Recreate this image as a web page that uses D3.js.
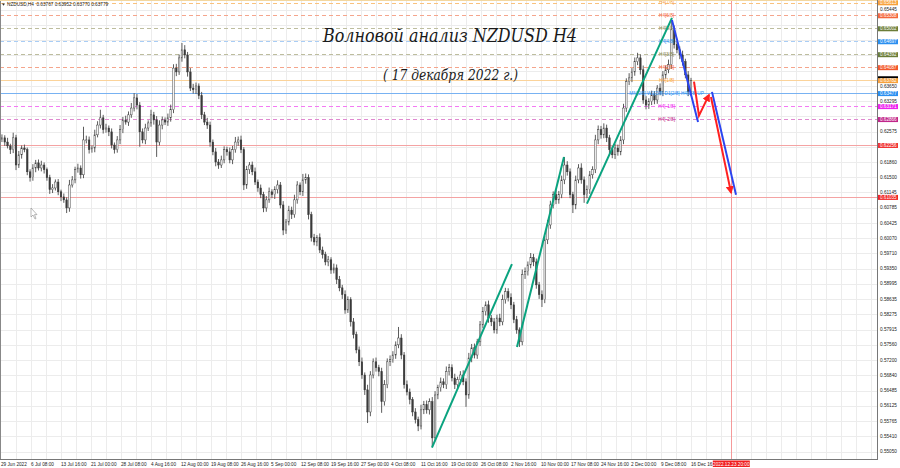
<!DOCTYPE html>
<html><head><meta charset="utf-8">
<script src="https://cdn.jsdelivr.net/npm/d3@7"></script>
<style>html,body{margin:0;padding:0;background:#fff;overflow:hidden}</style>
</head><body><svg id="c" width="900" height="468"></svg>
<script>
// ---------- DATA ----------
const symbolHeader = "NZDUSD,H4  0.63767 0.63952 0.63770 0.63779";
const titleText = "Волновой анализ NZDUSD H4";
const subtitleText = "( 17 декабря 2022 г.)";
const firstOpen = 0.6240;
// 12-hour candles (3 x H4 bars each), from 29 Jun 2022 to 16 Dec 2022
const closes = [
0.6243,0.6233,0.6224,0.6215,0.6243,0.6179,0.6203,0.6219,0.6215,0.6163,
0.6149,0.6172,0.6184,0.6172,0.6179,0.6168,0.6149,0.6121,0.6125,0.6139,
0.6116,0.6104,0.6097,0.6078,0.6132,0.6144,0.6168,0.6172,0.6156,0.6238,
0.6238,0.6215,0.6219,0.6250,0.6273,0.6290,0.6262,0.6266,0.6257,0.6226,
0.6215,0.6238,0.6262,0.6285,0.6280,0.6297,0.6313,0.6337,0.6320,0.6257,
0.6238,0.6266,0.6278,0.6297,0.6285,0.6233,0.6273,0.6285,0.6280,0.6290,
0.6309,0.6407,0.6398,0.6431,0.6450,0.6438,0.6398,0.6360,0.6356,0.6365,
0.6342,0.6297,0.6280,0.6273,0.6233,0.6210,0.6186,0.6179,0.6191,0.6215,
0.6210,0.6191,0.6215,0.6233,0.6238,0.6215,0.6132,0.6168,0.6179,0.6163,
0.6139,0.6125,0.6109,0.6078,0.6097,0.6116,0.6109,0.6121,0.6132,0.6085,
0.6026,0.6045,0.6073,0.6062,0.6097,0.6132,0.6116,0.6144,0.6149,0.6062,
0.6008,0.5998,0.6008,0.5979,0.5968,0.5951,0.5956,0.5932,0.5937,0.5909,
0.5890,0.5874,0.5838,0.5862,0.5810,0.5780,0.5744,0.5716,0.5685,0.5650,
0.5598,0.5685,0.5716,0.5702,0.5693,0.5622,0.5662,0.5716,0.5721,0.5732,
0.5756,0.5772,0.5732,0.5662,0.5645,0.5627,0.5598,0.5580,0.5565,0.5603,
0.5615,0.5603,0.5622,0.5537,0.5638,0.5655,0.5669,0.5662,0.5693,0.5702,
0.5678,0.5662,0.5674,0.5685,0.5669,0.5638,0.5725,0.5749,0.5732,0.5763,
0.5803,0.5834,0.5850,0.5819,0.5810,0.5791,0.5819,0.5810,0.5862,0.5881,
0.5867,0.5850,0.5815,0.5791,0.5763,0.5921,0.5928,0.5944,0.5961,0.5951,
0.5897,0.5874,0.5862,0.6003,0.6038,0.6085,0.6109,0.6097,0.6109,0.6144,
0.6179,0.6163,0.6109,0.6085,0.6144,0.6172,0.6144,0.6109,0.6121,0.6156,
0.6168,0.6238,0.6262,0.6250,0.6266,0.6243,0.6215,0.6203,0.6219,0.6210,
0.6238,0.6313,0.6375,0.6384,0.6398,0.6422,0.6431,0.6403,0.6332,0.6320,
0.6328,0.6344,0.6332,0.6360,0.6351,0.6391,0.6403,0.6415,0.6497,0.6462,
0.6450,0.6438,0.6422,0.6391,0.6351,0.6378];
// wick lengths above / below the body, in pips
const upperWicks = [
8,6,10,5,12,7,9,6,8,5, 6,9,7,8,10,6,5,7,9,6, 7,5,8,6,12,9,7,10,6,31,
10,8,6,12,9,19,7,10,6,8, 6,9,11,7,10,8,12,11,9,7, 8,10,6,12,7,9,11,8,6,10,
12,9,10,8,16,11,7,9,10,8, 6,9,7,10,8,6,9,7,10,8, 7,10,9,12,8,10,6,9,7,8,
10,6,8,7,9,10,6,8,11,7, 9,7,10,8,12,9,6,14,10,8, 7,9,6,10,8,7,9,6,10,8,
9,7,10,8,6,9,7,8,10,6, 12,9,8,10,7,9,11,8,10,9, 8,26,9,7,10,8,6,9,7,12,
9,10,8,11,9,7,10,8,12,9, 8,10,7,9,11,8,12,9,10,7, 9,11,8,10,7,9,8,10,12,9,
8,10,7,9,6,12,10,8,11,9, 8,7,10,9,12,10,8,11,9,10, 19,9,8,7,10,9,11,8,10,9,
8,12,10,9,11,8,7,9,10,8, 9,10,8,11,9,10,12,8,10,9, 8,10,9,7,11,9,10,12,23,10,
9,8,10,7,9,6];
const lowerWicks = [
7,9,6,10,8,12,7,9,6,8, 9,7,10,6,8,9,7,10,8,6, 8,10,7,12,9,6,8,7,9,8,
8,9,7,10,6,8,9,7,10,8, 9,7,10,8,6,9,7,8,10,35, 8,10,7,9,11,35,8,10,7,9,
9,8,10,7,9,8,11,7,9,10, 8,10,7,9,11,8,10,9,7,8, 9,8,10,7,9,8,12,9,10,8,
7,9,8,10,9,7,8,10,9,8, 12,9,8,10,7,9,8,10,9,11, 9,8,10,7,9,8,10,9,8,10,
8,10,9,7,11,9,8,10,9,12, 26,10,8,9,11,26,9,8,10,7, 9,8,10,9,8,11,10,9,12,8,
10,9,11,21,8,10,9,8,10,9, 8,10,9,11,8,28,9,10,8,9, 10,8,9,11,10,8,9,10,8,9,
9,10,8,9,12,8,10,9,8,10, 9,10,17,8,10,9,8,10,9,8, 10,9,8,19,10,8,9,19,8,10,
9,8,10,9,8,10,9,8,10,9, 8,10,9,8,10,9,8,11,9,10, 9,8,10,9,8,10,9,8,10,9,
8,10,9,8,10,9];
const timeLabels = ["29 Jun 2022","6 Jul 08:00","13 Jul 16:00","21 Jul 00:00","28 Jul 08:00",
"4 Aug 16:00","12 Aug 00:00","19 Aug 08:00","26 Aug 16:00","5 Sep 00:00","12 Sep 08:00",
"19 Sep 16:00","27 Sep 00:00","4 Oct 08:00","11 Oct 16:00","19 Oct 00:00","26 Oct 08:00",
"2 Nov 16:00","10 Nov 00:00","17 Nov 08:00","24 Nov 16:00","2 Dec 00:00","9 Dec 08:00","16 Dec 16:00"];
const barsPerTimeLabel = 32;
const priceTicks = [0.55050,0.55410,0.55765,0.56125,0.56485,0.56840,0.57200,0.57560,0.57915,
0.58275,0.58635,0.58995,0.59350,0.59710,0.60070,0.60425,0.60785,0.61145,0.61500,0.61860,
0.62220,0.62575,0.62935,0.63295,0.63650,0.64010,0.64370,0.64725,0.65085,0.65445];
// Murrey Math levels
const levelPrices = [0.65613,0.65308,0.65002,0.64697,0.64392,0.64087,0.63782,0.63477,0.63171,0.62866,0.62256,0.61035];
const levelNames  = ["H4[7/8]","H4[6/8]","H4[5/8]","H4[4/8]","H4[3/8]","H4[2/8]","H4[1/8]",
"MN[2/8] W1[2/8] D1[2/8] H4[0/8] UP","H4[-1/8]","H4[-2/8]","",""];
const bidPrice = 0.63779;
const forecastTime = "2022.12.23 20:00";
const forecastBar = 779;
// wave lines: [bar index, price]
const greenWaves = [
  [[459.7,0.5514],[545,0.5946]],
  [[550.4,0.5751],[600.5,0.6198]],
  [[625,0.6088],[715.7,0.6525]]];
const blueWaves = [
  [[715.7,0.6520],[743.5,0.6280]],
  [[758.4,0.6351],[784,0.6109]]];
const redWaves = [
  [[739.2,0.6375],[744.5,0.6295],[755.2,0.6344]],
  [[757.3,0.6339],[778.7,0.6114]]];

// ---------- STYLE ----------
const levelLineColors = ["#f9c27e","#f5a58c","#bdbd9e","#a9cdf5","#bdbd9e","#f5a58c","#fbd39a","#78b2f2","#f47af4","#e08ad0","#f4a3a3","#f4a3a3"];
const levelDash = ["4,3","4,3","4,3","4,3","4,3","4,3",null,null,"4,3","4,3",null,null];
const levelBoxColors = ["#f7a13b","#f4673c","#6b7d38","#2a8ff0","#6b7d38","#f2582a","#f7a13b","#2a8ff0","#ee22ee","#c0268a","#f03434","#f02424"];
const levelTextColors = ["#f7a13b","#f4673c","#8a8a50","#2a8ff0","#8a8a50","#f2582a","#f7a13b","#2a8ff0","#ee22ee","#c0268a","",""];

// ---------- DRAW ----------
const svg = d3.select("#c");
const plotR = 877, plotB = 459;
const x = d3.scaleLinear().domain([0, 32]).range([1, 31]);
const y = d3.scaleLinear().domain([0.55050, 0.63477]).range([451.5, 93.3]);
const FONT = "Liberation Sans, Arial, sans-serif";

const defs = svg.append("defs");
defs.append("clipPath").attr("id","plot")
  .append("rect").attr("x",0).attr("y",0).attr("width",plotR).attr("height",plotB);
const fx = x(forecastBar);
defs.append("clipPath").attr("id","taxis")
  .append("rect").attr("x",0).attr("y",459).attr("width",fx-18.5).attr("height",9);
defs.append("marker").attr("id","arrR").attr("viewBox","0 0 10 10").attr("refX",8).attr("refY",5)
  .attr("markerWidth",4).attr("markerHeight",4).attr("orient","auto")
  .append("path").attr("d","M0,0 L10,5 L0,10 z").attr("fill","#ff2020");

const plot = svg.append("g").attr("clip-path","url(#plot)");

// grid
const gridX = d3.range(16, 960, 16);
plot.selectAll("line.gx").data(gridX).join("line")
  .attr("x1",d=>Math.round(x(d))+0.5).attr("x2",d=>Math.round(x(d))+0.5)
  .attr("y1",0).attr("y2",plotB).attr("stroke","#ececec").attr("stroke-width",1);
plot.selectAll("line.gy").data(priceTicks).join("line")
  .attr("x1",0).attr("x2",plotR)
  .attr("y1",d=>Math.round(y(d))+0.5).attr("y2",d=>Math.round(y(d))+0.5)
  .attr("stroke","#ececec").attr("stroke-width",1);

// level lines
plot.selectAll("line.lv").data(levelPrices).join("line")
  .attr("x1",0).attr("x2",plotR)
  .attr("y1",d=>Math.round(y(d))+0.5).attr("y2",d=>Math.round(y(d))+0.5)
  .attr("stroke",(d,i)=>levelLineColors[i]).attr("stroke-width",1)
  .attr("stroke-dasharray",(d,i)=>levelDash[i]);

// forecast vertical line
plot.append("line").attr("x1",Math.round(fx)+0.5).attr("x2",Math.round(fx)+0.5)
  .attr("y1",0).attr("y2",plotB).attr("stroke","#f59a9a").attr("stroke-width",1);

// candles
const candles = closes.map((c,i)=>{
  const o = i===0 ? firstOpen : closes[i-1];
  return {o, c, h: Math.max(o,c)+upperWicks[i]*1e-4, l: Math.min(o,c)-lowerWicks[i]*1e-4, b: 3*i+1};
});
const cg = plot.append("g");
cg.selectAll("line").data(candles).join("line")
  .attr("x1",d=>x(d.b)).attr("x2",d=>x(d.b))
  .attr("y1",d=>y(d.h)).attr("y2",d=>y(d.l))
  .attr("stroke","#4a4a4a").attr("stroke-width",0.9);
cg.selectAll("rect").data(candles).join("rect")
  .attr("x",d=>x(d.b)-0.8).attr("width",1.6)
  .attr("y",d=>y(Math.max(d.o,d.c)))
  .attr("height",d=>Math.max(0.8, Math.abs(y(d.o)-y(d.c))))
  .attr("fill",d=>d.c>=d.o ? "#f4f4f4" : "#3a3a3a")
  .attr("stroke","#3a3a3a").attr("stroke-width",0.45);

// level text labels
const lblBar = 710;
plot.selectAll("text.lv").data(levelPrices.filter((p,i)=>levelNames[i])).join("text")
  .attr("x",x(lblBar)).attr("y",d=>y(d)+1.6)
  .attr("text-anchor","middle").attr("font-family",FONT).attr("font-size",4.7)
  .attr("fill",(d,i)=>levelTextColors[i]).text((d,i)=>levelNames[i]);

// waves
const line = d3.line().x(d=>x(d[0])).y(d=>y(d[1]));
plot.selectAll("path.g").data(greenWaves).join("path").attr("d",line)
  .attr("fill","none").attr("stroke","#0aa37f").attr("stroke-width",2);
plot.selectAll("path.b").data(blueWaves).join("path").attr("d",line)
  .attr("fill","none").attr("stroke","#2b45f0").attr("stroke-width",2);
plot.selectAll("path.r").data(redWaves).join("path").attr("d",line)
  .attr("fill","none").attr("stroke","#ff2020").attr("stroke-width",2)
  .attr("marker-end","url(#arrR)");

// cursor
svg.append("path").attr("d","M31,208 L31,217 L33,215 L35,219 L36,218.5 L34.5,214.6 L37,214.6 Z")
  .attr("fill","#fff").attr("stroke","#888").attr("stroke-width",0.6);

// frame
svg.append("line").attr("x1",0.5).attr("x2",0.5).attr("y1",0).attr("y2",plotB).attr("stroke","#888");
svg.append("line").attr("x1",plotR+0.5).attr("x2",plotR+0.5).attr("y1",0).attr("y2",plotB+1).attr("stroke","#777");
svg.append("line").attr("x1",0).attr("x2",plotR).attr("y1",plotB+0.5).attr("y2",plotB+0.5).attr("stroke","#777");
svg.append("line").attr("x1",0).attr("x2",plotR).attr("y1",0.5).attr("y2",0.5).attr("stroke","#f3d7a0");

// price axis labels (those hidden behind a level box are not printed)
const visibleTicks = priceTicks.filter(p => !levelPrices.some(l => Math.abs(y(l)-y(p)) < 4.6) && Math.abs(y(bidPrice)-4-y(p)) > 4);
svg.selectAll("text.pt").data(visibleTicks).join("text")
  .attr("x",880).attr("y",d=>y(d)+1.6)
  .attr("font-family",FONT).attr("font-size",4.7).attr("fill","#222")
  .text(d=>d.toFixed(5));
// bid box
svg.append("rect").attr("x",878).attr("y",y(bidPrice)-4.2).attr("width",20).attr("height",5.6).attr("fill","#000");
// colored level boxes
const boxes = svg.selectAll("g.bx").data(levelPrices).join("g");
boxes.append("rect").attr("x",878).attr("y",d=>y(d)-2.2).attr("width",20).attr("height",5)
  .attr("fill",(d,i)=>levelBoxColors[i]);
boxes.append("text").attr("x",880).attr("y",d=>y(d)+1.7)
  .attr("font-family",FONT).attr("font-size",4.6).attr("fill","#fff")
  .text(d=>d.toFixed(5));

// time axis labels
svg.append("g").attr("clip-path","url(#taxis)")
  .selectAll("text").data(timeLabels).join("text")
  .attr("x",(d,i)=>x(i*barsPerTimeLabel)).attr("y",465.5)
  .attr("font-family",FONT).attr("font-size",4.7).attr("fill","#222").text(d=>d);
svg.append("rect").attr("x",fx-18.5).attr("y",460.5).attr("width",37).attr("height",6.5).attr("fill","#f02020");
svg.append("text").attr("x",fx).attr("y",465.5).attr("text-anchor","middle")
  .attr("font-family",FONT).attr("font-size",4.7).attr("fill","#fff").text(forecastTime);

// header
svg.append("path").attr("d","M2,3.5 L5,3.5 L3.5,5.8 Z").attr("fill","#333");
svg.append("text").attr("x",7).attr("y",5.6).attr("font-family",FONT).attr("font-size",4.7)
  .attr("fill","#222").attr("xml:space","preserve").text(symbolHeader);

// titles
svg.append("text").attr("x",323).attr("y",42).attr("font-family","DejaVu Serif, serif")
  .attr("font-style","italic").attr("font-size",19).attr("fill","#1a1a1a")
  .attr("textLength",254).attr("lengthAdjust","spacingAndGlyphs").text(titleText);
svg.append("text").attr("x",383).attr("y",80).attr("font-family","DejaVu Serif, serif")
  .attr("font-style","italic").attr("font-size",15).attr("fill","#1a1a1a")
  .attr("textLength",135).attr("lengthAdjust","spacingAndGlyphs").text(subtitleText);
</script></body></html>
